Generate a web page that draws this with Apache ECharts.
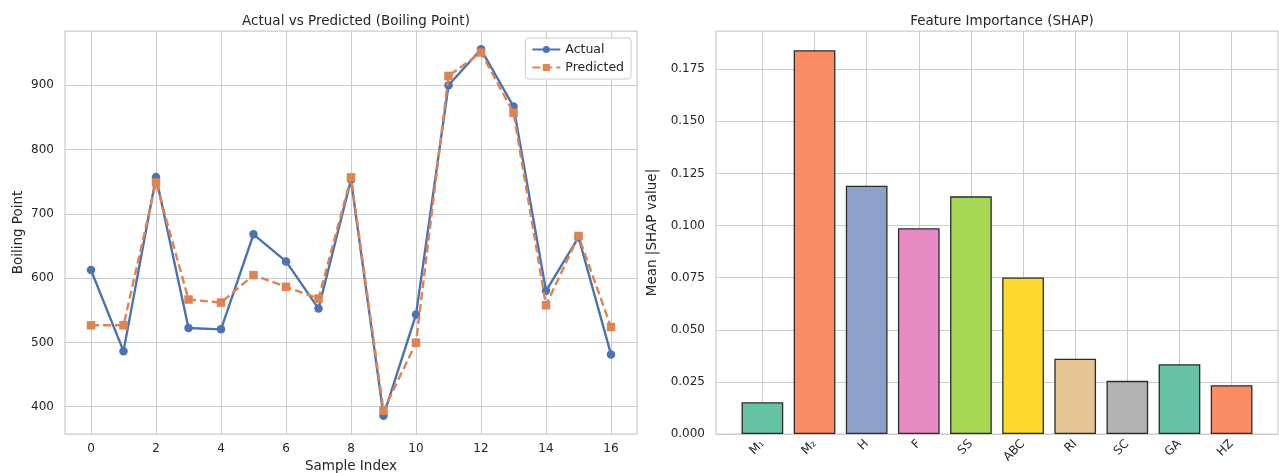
<!DOCTYPE html>
<html>
<head>
<meta charset="utf-8">
<script src="https://cdn.jsdelivr.net/npm/echarts@6/dist/echarts.min.js"></script>
<style>
  html, body { margin: 0; padding: 0; background: #ffffff; }
  #chart { width: 1279px; height: 473px; }
</style>
</head>
<body>
<div id="chart"></div>
<script>
// Left panel: boiling point, actual vs model prediction per test sample
const sampleIndex = [0, 1, 2, 3, 4, 5, 6, 7, 8, 9, 10, 11, 12, 13, 14, 15, 16];
const actual    = [612.5, 486.4, 757.3, 522.4, 520.3, 668.2, 626.0, 552.6, 753.0, 386.0, 543.3, 900.0, 956.0, 867.0, 580.2, 663.6, 481.3];
const predicted = [526.6, 526.6, 748.9, 566.7, 562.0, 604.7, 586.5, 568.2, 756.7, 393.8, 499.5, 914.6, 951.0, 857.3, 557.8, 665.6, 523.9];
const sampleTicks = [0, 2, 4, 6, 8, 10, 12, 14, 16];
const boilingTicks = [400, 500, 600, 700, 800, 900];

// Right panel: mean absolute SHAP value per descriptor
const features   = ['M\u2081', 'M\u2082', 'H', 'F', 'SS', 'ABC', 'RI', 'SC', 'GA', 'HZ'];
const importance = [0.0152, 0.1841, 0.1191, 0.0987, 0.1140, 0.0751, 0.0361, 0.0255, 0.0335, 0.0234];
const barColors  = ['#66c2a5', '#fc8d62', '#8da0cb', '#e78ac3', '#a6d854', '#ffd92f', '#e5c494', '#b3b3b3', '#66c2a5', '#fc8d62'];
const shapTicks  = [0, 0.025, 0.05, 0.075, 0.1, 0.125, 0.15, 0.175];

const FONT = 'DejaVu Sans';
const TEXT = '#262626';
const GRIDC = '#cccccc';

// padded axis ranges (5% margin on each side of the data)
function padded(vals, frac) {
  const lo = Math.min.apply(null, vals), hi = Math.max.apply(null, vals);
  const r = hi - lo;
  return [lo - frac * r, hi + frac * r];
}
const xRangeL = padded(sampleIndex, 0.05);
const yRangeL = padded(actual.concat(predicted), 0.05);
const barIdx = features.map((_, i) => i);
const xRangeR = padded([-0.4, features.length - 1 + 0.4], 0.05);
const yMaxR = Math.max.apply(null, importance) * 1.05;

const chart = echarts.init(document.getElementById('chart'), null, { renderer: 'canvas' });

const axisLabelBase = { color: TEXT, fontFamily: FONT, fontSize: 12 };
const splitLineBase = { show: true, lineStyle: { color: GRIDC, width: 1.1 } };
const nameStyle = { fontFamily: FONT, fontSize: 13.5, color: TEXT };

chart.setOption({
  animation: false,
  backgroundColor: '#ffffff',
  textStyle: { fontFamily: FONT, color: TEXT },
  title: [
    { text: 'Actual vs Predicted (Boiling Point)', left: 351, top: 9, textAlign: 'center',
      textStyle: { fontFamily: FONT, fontSize: 13.5, fontWeight: 'normal', color: TEXT } },
    { text: 'Feature Importance (SHAP)', left: 997, top: 9, textAlign: 'center',
      textStyle: { fontFamily: FONT, fontSize: 13.5, fontWeight: 'normal', color: TEXT } }
  ],
  legend: {
    data: ['Actual', 'Predicted'],
    orient: 'vertical',
    right: 648,
    top: 38,
    padding: [5, 7, 5, 6],
    itemGap: 5,
    itemWidth: 28,
    itemHeight: 9,
    backgroundColor: '#ffffff',
    borderColor: GRIDC,
    borderWidth: 1,
    borderRadius: 3,
    textStyle: { fontFamily: FONT, fontSize: 12.5, color: TEXT }
  },
  grid: [
    { left: 65, top: 31, width: 572, height: 403, outerBoundsMode: 'none', containLabel: false,
      show: true, borderColor: GRIDC, borderWidth: 1.25, backgroundColor: '#ffffff' },
    { left: 716, top: 31, width: 562, height: 403, outerBoundsMode: 'none', containLabel: false,
      show: true, borderColor: GRIDC, borderWidth: 1.25, backgroundColor: '#ffffff' }
  ],
  xAxis: [
    {
      type: 'value', gridIndex: 0, min: xRangeL[0], max: xRangeL[1],
      name: 'Sample Index', nameLocation: 'middle', nameGap: 24,
      nameTextStyle: nameStyle,
      axisLine: { show: false },
      axisTick: { show: false, customValues: sampleTicks },
      axisLabel: Object.assign({ margin: 9, customValues: sampleTicks }, axisLabelBase),
      splitLine: splitLineBase
    },
    {
      type: 'value', gridIndex: 1, min: xRangeR[0], max: xRangeR[1],
      axisLine: { show: false },
      axisTick: { show: false, customValues: barIdx },
      axisLabel: Object.assign({ margin: 8, rotate: 45, customValues: barIdx,
        formatter: v => features[Math.round(v)] }, axisLabelBase),
      splitLine: splitLineBase
    }
  ],
  yAxis: [
    {
      type: 'value', gridIndex: 0, min: yRangeL[0], max: yRangeL[1],
      name: 'Boiling Point', nameLocation: 'middle', nameGap: 40,
      nameTextStyle: nameStyle,
      axisLine: { show: false },
      axisTick: { show: false, customValues: boilingTicks },
      axisLabel: Object.assign({ margin: 11, customValues: boilingTicks }, axisLabelBase),
      splitLine: splitLineBase
    },
    {
      type: 'value', gridIndex: 1, min: 0, max: yMaxR,
      name: 'Mean |SHAP value|', nameLocation: 'middle', nameGap: 57,
      nameTextStyle: nameStyle,
      axisLine: { show: false },
      axisTick: { show: false, customValues: shapTicks },
      axisLabel: Object.assign({ margin: 11, customValues: shapTicks,
        formatter: v => v.toFixed(3) }, axisLabelBase),
      splitLine: splitLineBase
    }
  ],
  series: [
    {
      name: 'Actual', type: 'line', xAxisIndex: 0, yAxisIndex: 0,
      data: sampleIndex.map((x, i) => [x, actual[i]]),
      symbol: 'circle', symbolSize: 8.5,
      lineStyle: { color: '#4c72b0', width: 2.4 },
      itemStyle: { color: '#4c72b0' },
      z: 3
    },
    {
      name: 'Predicted', type: 'line', xAxisIndex: 0, yAxisIndex: 0,
      data: sampleIndex.map((x, i) => [x, predicted[i]]),
      symbol: 'rect', symbolSize: 8.5,
      lineStyle: { color: '#dd8452', width: 2.4, type: [8, 4] },
      itemStyle: { color: '#dd8452' },
      z: 4
    },
    {
      name: 'SHAP', type: 'bar', xAxisIndex: 1, yAxisIndex: 1,
      barWidth: '80%',
      data: importance.map((v, i) => ({
        value: [i, v],
        itemStyle: { color: barColors[i], borderColor: '#2b2b2b', borderWidth: 1.3 }
      }))
    }
  ]
});
</script>
</body>
</html>
